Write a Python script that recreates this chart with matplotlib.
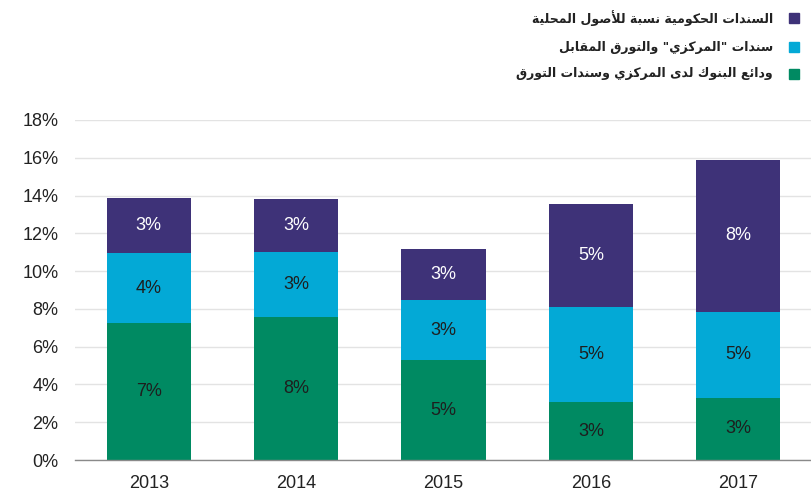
import matplotlib
matplotlib.use("Agg")
import matplotlib.pyplot as plt
from matplotlib.patches import Rectangle

years = ["2013", "2014", "2015", "2016", "2017"]
deposits = [7.24, 7.59, 5.29, 3.05, 3.30]       # green
central_bonds = [3.70, 3.41, 3.18, 5.03, 4.55]  # cyan
gov_bonds = [2.92, 2.82, 2.70, 5.46, 8.03]      # purple
yticks = [0, 2, 4, 6, 8, 10, 12, 14, 16, 18]

legend_labels = [
    "السندات الحكومية نسبة للأصول المحلية",
    'سندات "المركزي" والتورق المقابل',
    "ودائع البنوك لدى المركزي وسندات التورق",
]

C_GREEN = "#008a62"
C_CYAN = "#03a9d6"
C_PURPLE = "#3e3278"

# ---- minimal Arabic shaping (presentation forms) ----
FORMS = {
    'ء': (0xFE80, None, None, None),
    'آ': (0xFE81, 0xFE82, None, None),
    'أ': (0xFE83, 0xFE84, None, None),
    'ؤ': (0xFE85, 0xFE86, None, None),
    'إ': (0xFE87, 0xFE88, None, None),
    'ئ': (0xFE89, 0xFE8A, 0xFE8B, 0xFE8C),
    'ا': (0xFE8D, 0xFE8E, None, None),
    'ب': (0xFE8F, 0xFE90, 0xFE91, 0xFE92),
    'ة': (0xFE93, 0xFE94, None, None),
    'ت': (0xFE95, 0xFE96, 0xFE97, 0xFE98),
    'ث': (0xFE99, 0xFE9A, 0xFE9B, 0xFE9C),
    'ج': (0xFE9D, 0xFE9E, 0xFE9F, 0xFEA0),
    'ح': (0xFEA1, 0xFEA2, 0xFEA3, 0xFEA4),
    'خ': (0xFEA5, 0xFEA6, 0xFEA7, 0xFEA8),
    'د': (0xFEA9, 0xFEAA, None, None),
    'ذ': (0xFEAB, 0xFEAC, None, None),
    'ر': (0xFEAD, 0xFEAE, None, None),
    'ز': (0xFEAF, 0xFEB0, None, None),
    'س': (0xFEB1, 0xFEB2, 0xFEB3, 0xFEB4),
    'ش': (0xFEB5, 0xFEB6, 0xFEB7, 0xFEB8),
    'ص': (0xFEB9, 0xFEBA, 0xFEBB, 0xFEBC),
    'ض': (0xFEBD, 0xFEBE, 0xFEBF, 0xFEC0),
    'ط': (0xFEC1, 0xFEC2, 0xFEC3, 0xFEC4),
    'ظ': (0xFEC5, 0xFEC6, 0xFEC7, 0xFEC8),
    'ع': (0xFEC9, 0xFECA, 0xFECB, 0xFECC),
    'غ': (0xFECD, 0xFECE, 0xFECF, 0xFED0),
    'ف': (0xFED1, 0xFED2, 0xFED3, 0xFED4),
    'ق': (0xFED5, 0xFED6, 0xFED7, 0xFED8),
    'ك': (0xFED9, 0xFEDA, 0xFEDB, 0xFEDC),
    'ل': (0xFEDD, 0xFEDE, 0xFEDF, 0xFEE0),
    'م': (0xFEE1, 0xFEE2, 0xFEE3, 0xFEE4),
    'ن': (0xFEE5, 0xFEE6, 0xFEE7, 0xFEE8),
    'ه': (0xFEE9, 0xFEEA, 0xFEEB, 0xFEEC),
    'و': (0xFEED, 0xFEEE, None, None),
    'ى': (0xFEEF, 0xFEF0, None, None),
    'ي': (0xFEF1, 0xFEF2, 0xFEF3, 0xFEF4),
}
LAM_ALEF = {'آ': (0xFEF5, 0xFEF6), 'أ': (0xFEF7, 0xFEF8),
            'إ': (0xFEF9, 0xFEFA), 'ا': (0xFEFB, 0xFEFC)}


def shape(text):
    units = []
    i = 0
    while i < len(text):
        c = text[i]
        if c == 'ل' and i + 1 < len(text) and text[i + 1] in LAM_ALEF:
            units.append(('LA', text[i + 1]))
            i += 2
            continue
        units.append(('C', c))
        i += 1

    def is_ar(u):
        return u[0] == 'LA' or u[1] in FORMS

    def dual(u):
        return u[0] == 'C' and u[1] in FORMS and FORMS[u[1]][2] is not None

    out = []
    for k, u in enumerate(units):
        prev = units[k - 1] if k > 0 else None
        nxt = units[k + 1] if k + 1 < len(units) else None
        con_prev = prev is not None and dual(prev) and is_ar(u)
        if u[0] == 'LA':
            f = LAM_ALEF[u[1]]
            out.append(chr(f[1] if con_prev else f[0]))
            continue
        c = u[1]
        if c not in FORMS:
            out.append(c)
            continue
        f = FORMS[c]
        con_next = dual(u) and nxt is not None and is_ar(nxt)
        if con_prev and con_next:
            out.append(chr(f[3]))
        elif con_prev:
            out.append(chr(f[1]))
        elif con_next:
            out.append(chr(f[2]))
        else:
            out.append(chr(f[0]))
    return ''.join(out)[::-1]


plt.rcParams['font.family'] = ['Liberation Sans', 'DejaVu Sans']

fig = plt.figure(figsize=(8.12, 4.98), dpi=100)
ax = fig.add_axes([75 / 812, 38 / 498, 737 / 812, 340 / 498])

x = list(range(len(years)))
w = 0.57
series = [(deposits, C_GREEN, "#1e1e1e"),
          (central_bonds, C_CYAN, "#1e1e1e"),
          (gov_bonds, C_PURPLE, "white")]
bottom = [0.0] * len(years)
for vals, col, tcol in series:
    ax.bar(x, vals, w, bottom=bottom, color=col, edgecolor='none', zorder=3)
    for xi, b, v in zip(x, bottom, vals):
        ax.text(xi, b + v / 2, f"{round(v)}%", ha='center', va='center',
                color=tcol, fontsize=13, zorder=4)
    bottom = [b + v for b, v in zip(bottom, vals)]

ax.set_xlim(-0.5, len(years) - 0.5)
ax.set_ylim(0, 18)
ax.set_yticks(yticks)
ax.set_yticklabels([f"{t}%" for t in yticks])
ax.set_xticks(x)
ax.set_xticklabels(years)
ax.tick_params(axis='both', length=0, labelsize=13, colors="#222222")
ax.tick_params(axis='y', pad=12)
ax.tick_params(axis='x', pad=11)
ax.yaxis.grid(True, color="#e3e3e3", linewidth=1, zorder=0)
ax.set_axisbelow(True)
for s in ['top', 'right', 'left']:
    ax.spines[s].set_visible(False)
ax.spines['bottom'].set_color("#8a8a8a")
ax.spines['bottom'].set_linewidth(1)
ax.spines['bottom'].set_zorder(5)

leg_colors = [C_PURPLE, C_CYAN, C_GREEN]
leg_y = [18, 47, 74]
for lab, col, yp in zip(legend_labels, leg_colors, leg_y):
    yf = 1 - yp / 498
    fig.text(773 / 812, yf, shape(lab), ha='right', va='center',
             fontsize=9, fontweight='bold', color="#222222", family=['DejaVu Sans'])
    fig.add_artist(Rectangle((789 / 812, yf - 5 / 498), 10 / 812, 10 / 498,
                             transform=fig.transFigure, color=col))

fig.savefig("out.png", dpi=100)
